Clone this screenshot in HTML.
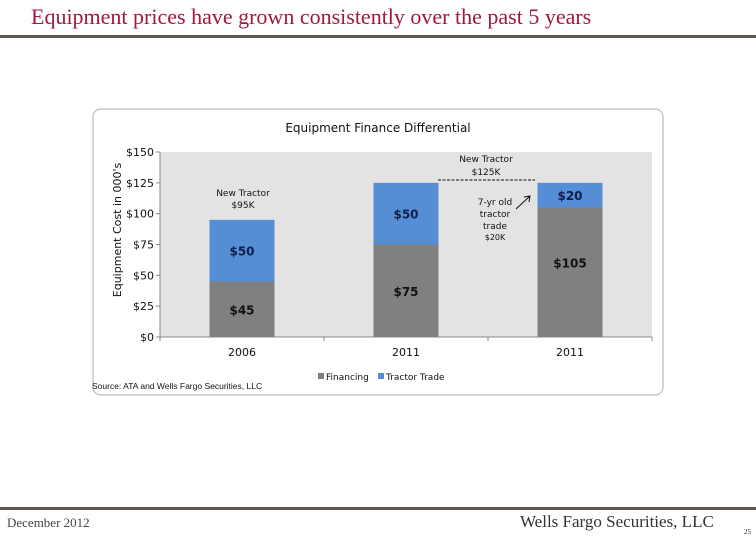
<!DOCTYPE html>
<html><head><meta charset="utf-8"><style>
body{margin:0;width:756px;height:540px;background:#fff;overflow:hidden;position:relative;font-family:"Liberation Serif",serif}
</style></head><body>
<div style="position:absolute;left:31px;top:4px;font-size:22px;color:#a0183c;font-family:'Liberation Serif',serif;white-space:nowrap">Equipment prices have grown consistently over the past 5 years</div>
<div style="position:absolute;left:0;top:35px;width:756px;height:3px;background:#5f5850"></div>
<div style="position:absolute;left:0;top:507px;width:756px;height:3px;background:#5f5850"></div>
<div style="position:absolute;left:7px;top:515px;font-size:13px;color:#444">December 2012</div>
<div style="position:absolute;left:520px;top:512px;font-size:17px;color:#333;white-space:nowrap">Wells Fargo Securities, LLC</div>
<div style="position:absolute;left:744px;top:528px;font-size:7px;color:#333">25</div>
<svg id="chart" width="756" height="540" style="position:absolute;left:0;top:0" font-family="'DejaVu Sans',sans-serif">
<rect x="93" y="109" width="570" height="286" rx="8" fill="#fff" stroke="#bbb" stroke-width="1.2"/>
<text x="378" y="132" font-size="12" text-anchor="middle" fill="#111">Equipment Finance Differential</text>
<rect x="160" y="152" width="492" height="185" fill="#e3e3e3"/>
<text transform="translate(121,230) rotate(-90)" font-size="11" text-anchor="middle" fill="#111">Equipment Cost in 000's</text>
<g id="axes"></g><g id="bars"></g>
<text x="243" y="196" font-size="9" text-anchor="middle" fill="#111">New Tractor</text>
<text x="243" y="208" font-size="9" text-anchor="middle" fill="#111">$95K</text>
<text x="486" y="162" font-size="9" text-anchor="middle" fill="#111">New Tractor</text>
<text x="486" y="175" font-size="9" text-anchor="middle" fill="#111">$125K</text>
<line x1="438" y1="180" x2="535" y2="180" stroke="#111" stroke-dasharray="3,1.5" stroke-width="1"/>
<text font-size="9" text-anchor="middle" fill="#111"><tspan x="495" y="205">7-yr old</tspan><tspan x="495" y="217">tractor</tspan><tspan x="495" y="229">trade</tspan><tspan x="495" y="240" font-size="8">$20K</tspan></text>
<path d="M516,209 L530,196 M524,197 L530,196 L529,202" stroke="#111" fill="none" stroke-width="1"/>
<rect x="318" y="373" width="6" height="6" fill="#808080"/>
<text x="326" y="380" font-size="9" fill="#111">Financing</text>
<rect x="378" y="373" width="6" height="6" fill="#558ed5"/>
<text x="386" y="380" font-size="9" fill="#111">Tractor Trade</text>
<text x="92" y="389" font-size="8.5" fill="#111" font-family="'Liberation Sans',sans-serif">Source: ATA and Wells Fargo Securities, LLC</text>
</svg>
<script>
const categories=["2006","2011","2011"];
const financing=[45,75,105];
const tractorTrade=[50,50,20];
const yTicks=[0,25,50,75,100,125,150];
const NS="http://www.w3.org/2000/svg";
const x0=160,x1=652,yTop=152,yBot=337,yMax=150;
const band=(x1-x0)/categories.length,bw=65;
const y=v=>yBot-(v/yMax)*(yBot-yTop);
const xc=i=>x0+band*(i+0.5);
function mk(tag,attrs,parent,txt){const e=document.createElementNS(NS,tag);for(const k in attrs)e.setAttribute(k,attrs[k]);if(txt!==undefined)e.textContent=txt;parent.appendChild(e);return e;}
const ax=document.getElementById('axes'),bg=document.getElementById('bars');
let l=mk('line',{x1:x0,y1:yTop,x2:x0,y2:yBot,stroke:'#888'},ax);


l=mk('line',{x1:x0,y1:yBot,x2:x1,y2:yBot,stroke:'#888'},ax);


yTicks.forEach(t=>{
 const tk=mk('line',{x1:x0-4,y1:y(t),x2:x0,y2:y(t),stroke:'#888'},ax);
 
 
 const tx=mk('text',{x:x0-6,y:y(t)+4,'font-size':11,'text-anchor':'end',fill:'#111'},ax,'$'+t);
 
 
});
for(let i=0;i<=categories.length;i++){
 const tk=mk('line',{x1:x0+band*i,y1:yBot,x2:x0+band*i,y2:yBot+4,stroke:'#888'},ax);
 
 
}
categories.forEach((c,i)=>{
 const tx=mk('text',{x:xc(i),y:yBot+19,'font-size':11,'text-anchor':'middle',fill:'#111'},ax,c);
 
 
 const f=financing[i],t=tractorTrade[i];
 const r1=mk('rect',{x:xc(i)-bw/2,y:y(f),width:bw,height:yBot-y(f),fill:'#808080'},bg);
 
 
 const r2=mk('rect',{x:xc(i)-bw/2,y:y(f+t),width:bw,height:y(f)-y(f+t),fill:'#558ed5'},bg);
 
 
 const fl=mk('text',{x:xc(i),y:(y(f)+yBot)/2+(i==2?-5:5),'font-size':12,'font-weight':'bold','text-anchor':'middle',fill:'#111'},bg,'$'+f);
 
 
 const tl=mk('text',{x:xc(i),y:(y(f)+y(f+t))/2+5,'font-size':12,'font-weight':'bold','text-anchor':'middle',fill:'#0f1f4a'},bg,'$'+t);
 
 
});
</script>
</body></html>
